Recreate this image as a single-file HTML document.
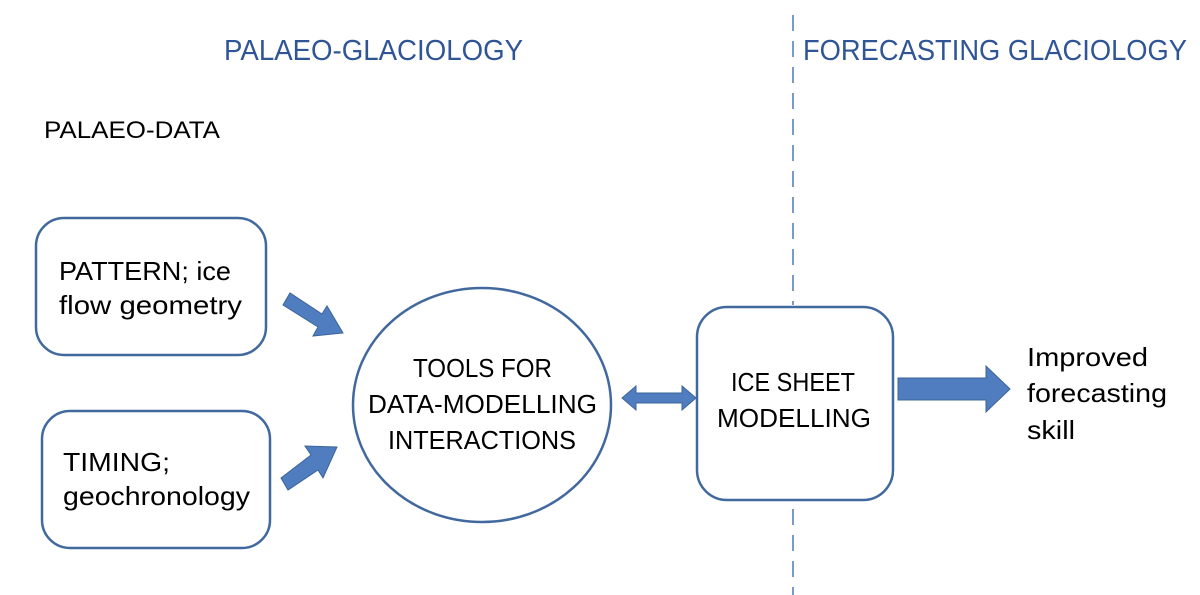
<!DOCTYPE html>
<html><head><meta charset="utf-8"><style>html,body{margin:0;padding:0;background:#fff;}svg{display:block}</style></head>
<body>
<svg width="1200" height="595" viewBox="0 0 1200 595" xmlns="http://www.w3.org/2000/svg" font-family="Liberation Sans, sans-serif">
<rect width="1200" height="595" fill="#fff"/>
<line x1="793" y1="15" x2="793" y2="595" stroke="#4f79b5" stroke-width="1.5" stroke-dasharray="16,10"/>
<rect x="790" y="305" width="6" height="200" fill="#fff"/>
<text x="224" y="60" font-size="29" fill="#2f5597" textLength="299" lengthAdjust="spacingAndGlyphs">PALAEO-GLACIOLOGY</text>
<text x="803" y="60" font-size="29" fill="#2f5597" textLength="384" lengthAdjust="spacingAndGlyphs">FORECASTING GLACIOLOGY</text>
<text x="44" y="138" font-size="24" fill="#000" textLength="176" lengthAdjust="spacingAndGlyphs">PALAEO-DATA</text>
<g fill="#fff" stroke="#41699e" stroke-width="2.5">
<rect x="36" y="218" width="230" height="137" rx="28"/>
<rect x="42" y="411" width="228" height="137" rx="28"/>
<ellipse cx="482" cy="405" rx="129" ry="117"/>
<rect x="697" y="307" width="196" height="193" rx="30"/>
</g>
<g font-size="26" fill="#000" lengthAdjust="spacingAndGlyphs">
<text x="59" y="280" textLength="172" lengthAdjust="spacingAndGlyphs">PATTERN; ice</text>
<text x="59" y="314" textLength="183" lengthAdjust="spacingAndGlyphs">flow geometry</text>
<text x="63" y="471" textLength="107" lengthAdjust="spacingAndGlyphs">TIMING;</text>
<text x="63" y="505" textLength="187" lengthAdjust="spacingAndGlyphs">geochronology</text>
<text x="413" y="377" textLength="139" lengthAdjust="spacingAndGlyphs">TOOLS FOR</text>
<text x="368" y="413" textLength="229" lengthAdjust="spacingAndGlyphs">DATA-MODELLING</text>
<text x="388" y="449" textLength="188" lengthAdjust="spacingAndGlyphs">INTERACTIONS</text>
<text x="731" y="391" textLength="124" lengthAdjust="spacingAndGlyphs">ICE SHEET</text>
<text x="717" y="427" textLength="154" lengthAdjust="spacingAndGlyphs">MODELLING</text>
<text x="1027" y="366" textLength="121" lengthAdjust="spacingAndGlyphs">Improved</text>
<text x="1027" y="402" textLength="140" lengthAdjust="spacingAndGlyphs">forecasting</text>
<text x="1027" y="439" textLength="48" lengthAdjust="spacingAndGlyphs">skill</text>
</g>
<g fill="#4f7dbf" stroke="#3b6499" stroke-width="1">
<polygon points="283,305 290,293 322,314 327,306 343,333 313,336 318,327"/>
<polygon points="281,478 288,490 318,470 323,478 337,447 305,446 311,455"/>
<polygon points="622,398 636,386 636,393 682,393 682,386 696,398 682,410 682,403 636,403 636,410"/>
<polygon points="898,378 986,378 986,366 1010,389 986,412 986,400 898,400"/>
</g>
</svg>
</body></html>
